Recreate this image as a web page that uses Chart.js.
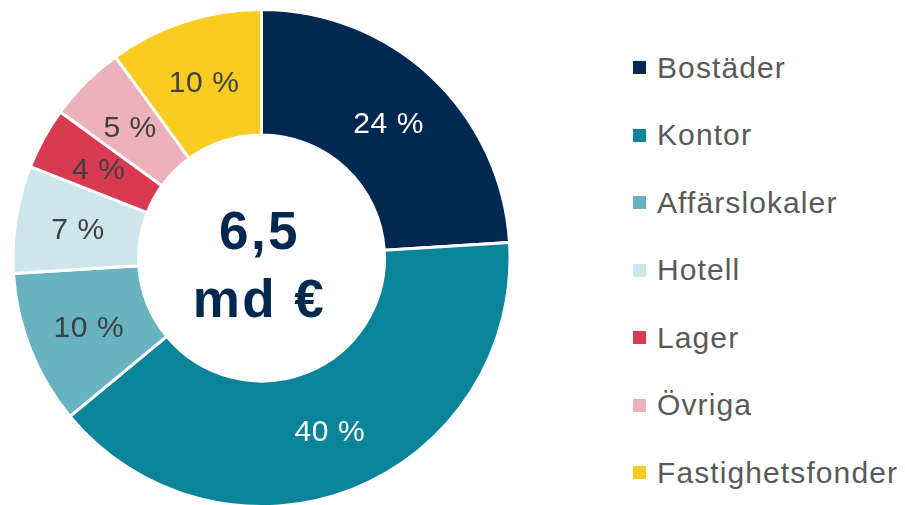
<!DOCTYPE html>
<html lang="sv">
<head>
  <meta charset="UTF-8">
  <title>Transaktionsvolym per segment</title>
  <script src="https://cdn.jsdelivr.net/npm/chart.js"></script>
  <style>
    body { margin: 0; background: #fff; overflow: hidden; font-family: "Liberation Sans", Arial, sans-serif; }
    #wrap { position: relative; width: 905px; height: 505px; }
    #chartBox { position: absolute; left: 0; top: 0; width: 523px; height: 508px; }
    #legend { position: absolute; left: 633px; top: 34px; margin: 0; padding: 0; list-style: none; }
    #legend li { height: 67.5px; display: flex; align-items: center; font-size: 30px; color: #595959; letter-spacing: 1.1px; white-space: nowrap; }
    #legend .sw { width: 13px; height: 13px; margin-right: 11px; flex: none; }
  </style>
</head>
<body>
  <div id="wrap">
    <div id="chartBox"><canvas id="donut"></canvas></div>
    <ul id="legend"></ul>
  </div>

  <script>
    const segments = ['Bostäder', 'Kontor', 'Affärslokaler', 'Hotell', 'Lager', 'Övriga', 'Fastighetsfonder'];
    const shares = [24, 40, 10, 7, 4, 5, 10];
    const totalLines = ['6,5', 'md €'];

    const colors = ['#002850', '#0a8499', '#68b3c1', '#cde6eb', '#d83a51', '#edb1b9', '#f9cc22'];
    const labelColors = ['#ffffff', '#ffffff', '#404040', '#404040', '#404040', '#404040', '#404040'];

    // percentage inside each slice + total in the hole
    const sliceLabels = {
      id: 'sliceLabels',
      afterDatasetsDraw(chart) {
        const ctx = chart.ctx;
        const arcs = chart.getDatasetMeta(0).data;
        ctx.save();
        ctx.textAlign = 'center';
        ctx.textBaseline = 'middle';
        ctx.font = '30px "Liberation Sans", Arial, sans-serif';
        ctx.letterSpacing = '0.6px';
        arcs.forEach((arc, i) => {
          const p = arc.getCenterPoint();
          ctx.fillStyle = labelColors[i];
          ctx.fillText(shares[i] + ' %', p.x, p.y + 2);
        });
        const c = arcs[0];
        ctx.fillStyle = '#002850';
        ctx.font = 'bold 53px "Liberation Sans", Arial, sans-serif';
        ctx.letterSpacing = '2.5px';
        ctx.textBaseline = 'alphabetic';
        ctx.fillText(totalLines[0], c.x - 2, c.y - 9);
        ctx.fillText(totalLines[1], c.x - 2, c.y + 59);
        ctx.restore();
      }
    };

    const chart = new Chart(document.getElementById('donut'), {
      type: 'doughnut',
      data: {
        labels: segments,
        datasets: [{
          data: shares,
          backgroundColor: colors,
          borderColor: '#ffffff',
          borderWidth: 3
        }]
      },
      options: {
        responsive: true,
        maintainAspectRatio: false,
        animation: false,
        cutout: '49.5%',
        layout: { padding: { top: 8, bottom: 0, left: 0, right: 0 } },
        plugins: {
          legend: { display: false },
          tooltip: { enabled: false }
        }
      },
      plugins: [sliceLabels]
    });

    // legend list built from the chart's own legend items
    const list = document.getElementById('legend');
    chart.options.plugins.legend.labels.generateLabels(chart).forEach(item => {
      const li = document.createElement('li');
      const sw = document.createElement('span');
      sw.className = 'sw';
      sw.style.background = item.fillStyle;
      li.appendChild(sw);
      li.appendChild(document.createTextNode(item.text));
      list.appendChild(li);
    });
  </script>
</body>
</html>
